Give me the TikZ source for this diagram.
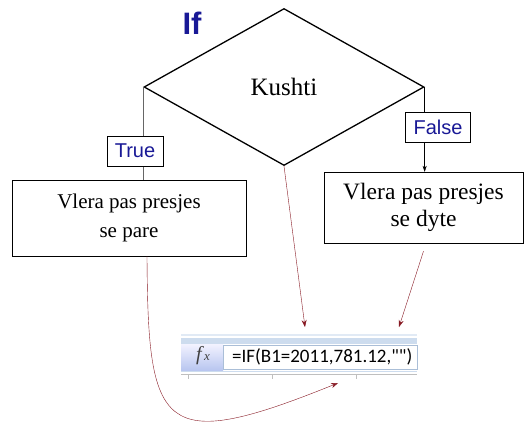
\documentclass[tikz,border=0pt]{standalone}
\usepackage{fontspec}
\setmainfont{Liberation Serif}
\setsansfont{Liberation Sans}
\newfontfamily\calibri{Carlito}
\usetikzlibrary{shapes.geometric,arrows.meta}
\definecolor{ifblue}{RGB}{25,25,150}
\definecolor{arrred}{RGB}{135,25,35}
\definecolor{barblue}{RGB}{205,220,238}
\definecolor{cellline}{RGB}{170,190,215}

\begin{document}
\begin{tikzpicture}[x=1pt,y=-1pt,
    lbl/.style={draw, fill=white, inner xsep=8pt, minimum height=30pt, text=ifblue, font=\sffamily\fontsize{20}{22}\selectfont},
    valbox/.style={draw, fill=white, align=center},
    redarrow/.style={arrred, -{Stealth[length=7pt,width=5pt]}}]
    \useasboundingbox (0,0) rectangle (527,423);
    % Draw the If decision with its two branches
    \node[text=ifblue, font=\sffamily\bfseries\fontsize{31}{31}\selectfont] (title) at (192,23) {If};
    \node[draw, diamond, line width=1.3pt, minimum width=280pt, minimum height=157pt, inner sep=0pt, font=\fontsize{25}{25}\selectfont] (cond) at (284,87) {Kushti};
    \node[valbox, minimum width=234pt, minimum height=76pt, font=\fontsize{21}{29}\selectfont] (truebox) at (129,218) {Vlera pas presjes\\se pare};
    \node[valbox, minimum width=199pt, minimum height=71pt, font=\fontsize{23.5}{27}\selectfont] (falsebox) at (423.5,207.5) {Vlera pas presjes\\se dyte};

    \draw[gray!80!black] (cond.west) -- (cond.west |- truebox.north);
    \draw[-{Stealth[length=6pt,width=4pt]}] (cond.east) -- (cond.east |- falsebox.north);
    \node[lbl] (truelbl) at (135,151) {True};
    \node[lbl] (falselbl) at (438,127) {False};

    % Formula bar
    \fill[barblue!60] (181,334) rectangle (417,336);
    \fill[barblue] (181,338) rectangle (417,344);
    \shade[top color=blue!5, bottom color=barblue!90!blue] (181,344) rectangle (223,370);
    \draw[cellline, fill=white] (223,345) rectangle (417,369);
    \node[text=black!75, font=\fontsize{20}{20}\selectfont] (fx) at (203,356) {\textit{f}\textit{\fontsize{13}{13}\selectfont x}};
    \node[anchor=west, inner sep=0pt, font=\calibri\fontsize{19}{19}\selectfont] (formula) at (232,357) {=IF(B1=2011,781.12,"")};
    \draw[barblue] (181,371) -- (417,371);
    \draw[gray!50] (181,374) -- (417,374);
    \foreach \tx in {188,272,356}
        \draw[gray!50] (\tx,374) -- (\tx,379);

    % Where each part goes in the formula
    \coordinate (tipA) at (305,327);
    \coordinate (tipB) at (399,327);
    \coordinate (tipC) at (338,383);
    \draw[redarrow] (cond.south) -- (tipA);
    \draw[redarrow] ([yshift=-8pt]falsebox.south) -- (tipB);
    \draw[redarrow] ([xshift=18pt]truebox.south) .. controls (148,430) and (160,455) .. (tipC);
\end{tikzpicture}
\end{document}
